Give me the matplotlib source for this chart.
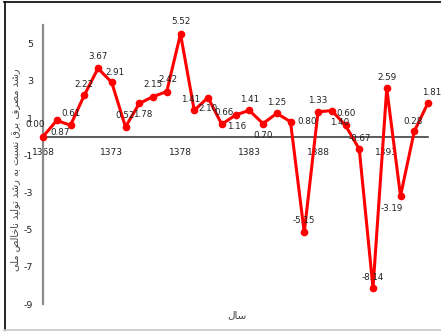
import matplotlib
matplotlib.use("Agg")
import matplotlib.pyplot as plt
from matplotlib.lines import Line2D

# yearly ratio of electricity consumption growth to GDP growth
years = list(range(1368, 1397))
ratio = [0.00, 0.87, 0.61, 2.22, 3.67, 2.91, 0.52, 1.78, 2.15, 2.42,
         5.52, 1.41, 2.10, 0.66, 1.16, 1.41, 0.70, 1.25, 0.80, -5.15,
         1.33, 1.40, 0.60, -0.67, -8.14, 2.59, -3.19, 0.28, 1.81]
xticks = [1368, 1373, 1378, 1383, 1388, 1393]
yticks = [-9, -7, -5, -3, -1, 1, 3, 5]

ylabel_fa = "رشد مصرف برق نسبت به رشد تولید ناخالص ملی"
xlabel_fa = "سال"

# label offsets in pixels (dx, dy) so they sit like the spreadsheet export
offsets = [(-8, 12), (3, -12), (0, 12), (0, 11), (0, 12), (3, 10), (0, 11),
           (3, -11), (0, 12), (1, 12), (0, 12), (-4, 11), (0, -11), (2, 12),
           (1, -11), (0, 11), (0, -12), (0, 11), (17, 0), (0, 12), (0, 11),
           (8, -12), (1, 12), (1, 11), (0, 11), (0, 11), (-9, -13), (-1, 10),
           (4, 10)]

# matplotlib has no arabic shaping, so pick presentation forms by hand
# (isolated, final, initial, medial)
FORMS = {
    "ا": ("\uFE8D", "\uFE8E", None, None),
    "ب": ("\uFE8F", "\uFE90", "\uFE91", "\uFE92"),
    "ت": ("\uFE95", "\uFE96", "\uFE97", "\uFE98"),
    "خ": ("\uFEA5", "\uFEA6", "\uFEA7", "\uFEA8"),
    "د": ("\uFEA9", "\uFEAA", None, None),
    "ر": ("\uFEAD", "\uFEAE", None, None),
    "س": ("\uFEB1", "\uFEB2", "\uFEB3", "\uFEB4"),
    "ش": ("\uFEB5", "\uFEB6", "\uFEB7", "\uFEB8"),
    "ص": ("\uFEB9", "\uFEBA", "\uFEBB", "\uFEBC"),
    "ف": ("\uFED1", "\uFED2", "\uFED3", "\uFED4"),
    "ق": ("\uFED5", "\uFED6", "\uFED7", "\uFED8"),
    "ل": ("\uFEDD", "\uFEDE", "\uFEDF", "\uFEE0"),
    "م": ("\uFEE1", "\uFEE2", "\uFEE3", "\uFEE4"),
    "ن": ("\uFEE5", "\uFEE6", "\uFEE7", "\uFEE8"),
    "ه": ("\uFEE9", "\uFEEA", "\uFEEB", "\uFEEC"),
    "و": ("\uFEED", "\uFEEE", None, None),
    "ی": ("\uFEEF", "\uFEF0", "\uFEF3", "\uFEF4"),
}
NON_LEFT = set("ادذرزو")


def shape(text):
    words = []
    for word in text.split(" "):
        glyphs = []
        for i, c in enumerate(word):
            prev = word[i - 1] if i > 0 else None
            nxt = word[i + 1] if i + 1 < len(word) else None
            join_prev = prev is not None and prev not in NON_LEFT
            join_next = nxt is not None and c not in NON_LEFT
            iso, fin, ini, med = FORMS[c]
            if join_prev and join_next:
                glyphs.append(med)
            elif join_prev:
                glyphs.append(fin)
            elif join_next:
                glyphs.append(ini)
            else:
                glyphs.append(iso)
        words.append("".join(glyphs))
    return " ".join(words)[::-1]


plt.rcParams["font.family"] = ["DejaVu Sans"]
plt.rcParams["axes.unicode_minus"] = False

fig = plt.figure(figsize=(4.41, 3.32), dpi=100)
ax = fig.add_axes([43 / 441, 28 / 332, 385 / 441, 279 / 332])

ax.plot(years, ratio, color="#ff0000", lw=2.2, marker="o", ms=4.5,
        clip_on=False, zorder=3)

for x, y, (dx, dy) in zip(years, ratio, offsets):
    ax.annotate(f"{y:.2f}", (x, y), xytext=(dx, dy),
                textcoords="offset pixels", ha="center", va="center",
                fontsize=6.3, color="#222222", zorder=4)

ax.set_xlim(1368, 1396)
ax.set_ylim(-9, 6)
ax.set_xticks(xticks)
ax.set_yticks(yticks)

for s in ("top", "right"):
    ax.spines[s].set_visible(False)
ax.spines["left"].set_color("#8c8c8c")
ax.spines["left"].set_linewidth(1.6)
ax.spines["bottom"].set_position(("data", 0))
ax.spines["bottom"].set_color("#404040")
ax.spines["bottom"].set_linewidth(1.2)

ax.tick_params(axis="x", length=0, pad=8, labelsize=6.5, colors="#222222")
ax.tick_params(axis="y", length=0, pad=7, labelsize=6.8, colors="#222222")

fig.text(0.034, 162 / 332, shape(ylabel_fa), rotation=90, ha="center",
         va="center", fontsize=7, color="#444444")
fig.text(237 / 441, 1 - 315 / 332, shape(xlabel_fa), ha="center",
         va="center", fontsize=7.5, color="#444444")

# outer frame of the chart area
fig.add_artist(Line2D([4.5 / 441, 4.5 / 441], [1 - 2 / 332, 1 - 330 / 332],
                      transform=fig.transFigure, color="black", lw=1.2))
fig.add_artist(Line2D([4 / 441, 1], [1 - 2 / 332, 1 - 2 / 332],
                      transform=fig.transFigure, color="black", lw=1.2))
fig.add_artist(Line2D([4 / 441, 1], [1 - 330 / 332, 1 - 330 / 332],
                      transform=fig.transFigure, color="#c8c8c8", lw=1.2))

fig.savefig("out.png", dpi=100)
